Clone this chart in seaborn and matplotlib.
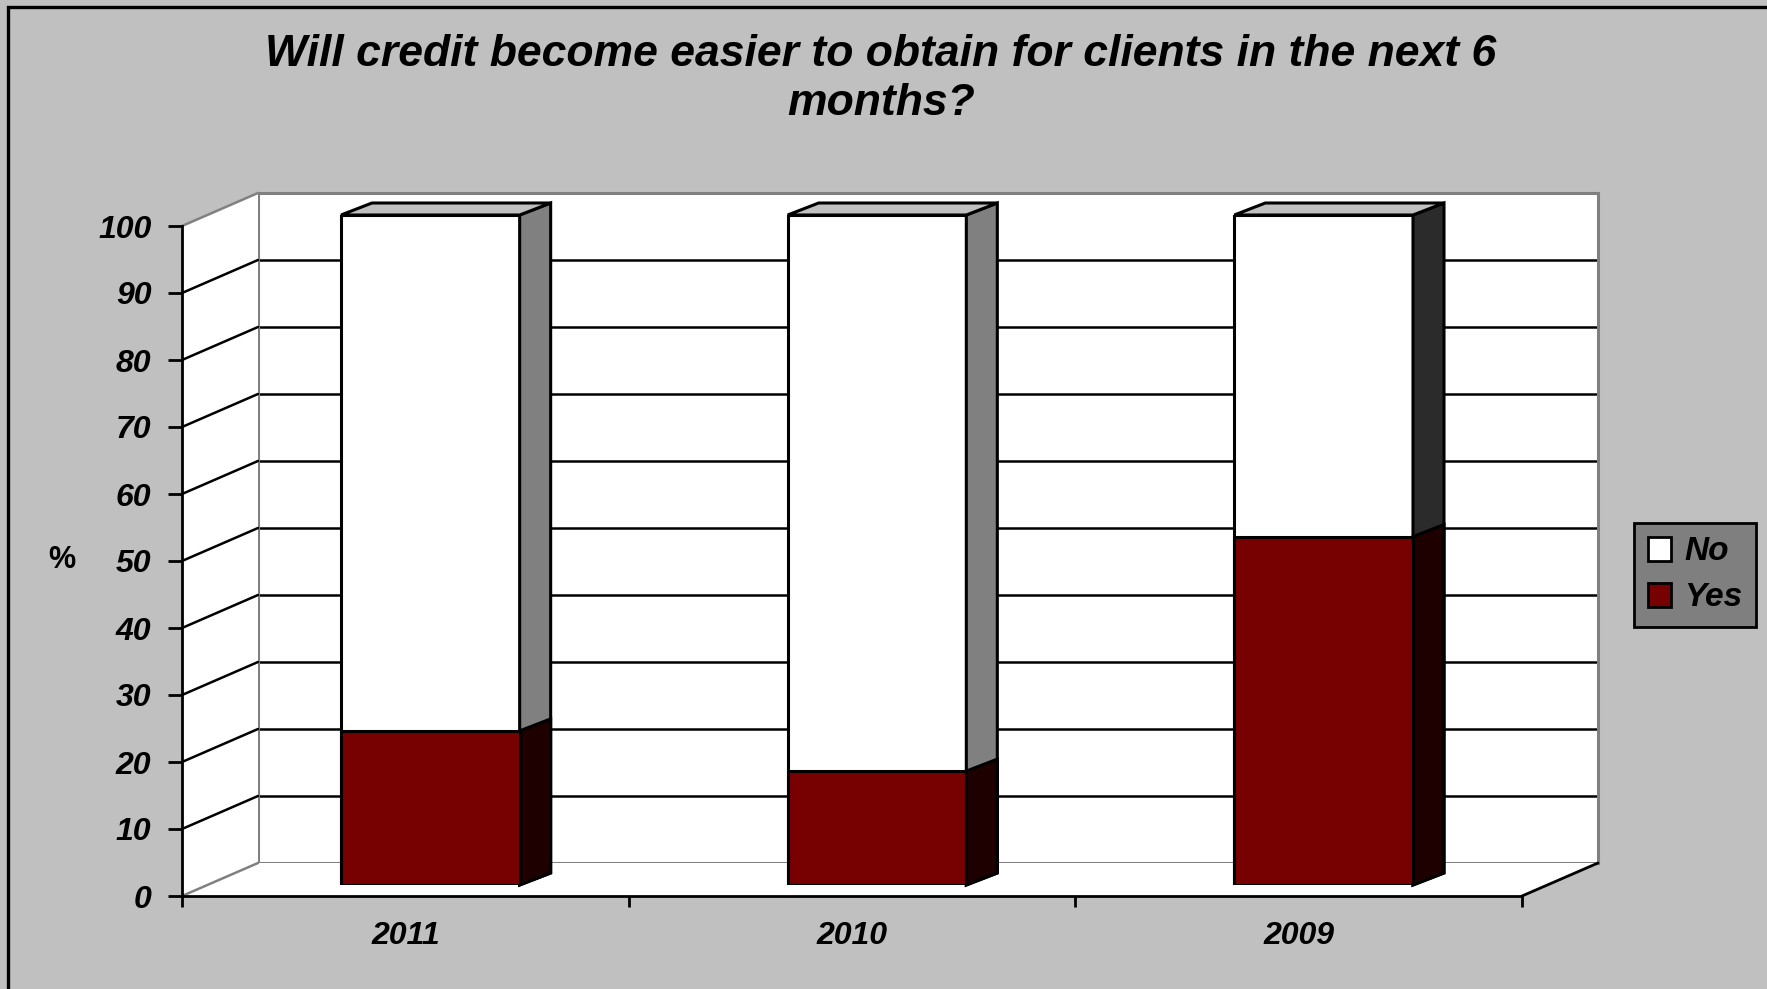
import numpy as np
import pandas as pd
import matplotlib
matplotlib.use("Agg")
import matplotlib.pyplot as plt
import seaborn as sns
from matplotlib.patches import Polygon, Patch, Rectangle
from matplotlib.lines import Line2D
from matplotlib.transforms import IdentityTransform

# ---- data ----
years = ["2011", "2010", "2009"]
yes_vals = [23, 17, 52]
no_vals = [77, 83, 48]
series_names = ["No", "Yes"]
title = "Will credit become easier to obtain for clients in the next 6\nmonths?"
y_ticks = list(range(0, 101, 10))

# ---- style ----
sns.set_style("white")
plt.rcParams["font.family"] = ["Liberation Sans", "DejaVu Sans"]
plt.rcParams["font.weight"] = "bold"
plt.rcParams["font.style"] = "italic"
plt.rcParams["text.color"] = "black"
plt.rcParams["xtick.color"] = "black"
plt.rcParams["ytick.color"] = "black"
plt.rcParams["xtick.labelcolor"] = "black"
plt.rcParams["ytick.labelcolor"] = "black"

BG = "#c0c0c0"
RED = "#770000"
RED_SIDE = "#1e0000"
NO_SIDES = ["#808080", "#808080", "#2b2b2b"]
TOP = "#c0c0c0"
GRAY = "#808080"

W, H = 1767, 989
fig = plt.figure(figsize=(W / 100, H / 100), dpi=100, facecolor=BG)


def fax(l, t, r, b):
    return [l / W, 1 - b / H, (r - l) / W, (b - t) / H]


ID = IdentityTransform()

# back wall
ax_back = fig.add_axes(fax(258, 193, 1598, 863), zorder=0)
# bar plane
ax = fig.add_axes(fax(207, 215, 1547, 885), zorder=2)
# front plane (axis lines, ticks)
ax_front = fig.add_axes(fax(182, 226, 1522, 896), zorder=3)

for a in (ax_back, ax, ax_front):
    a.set_xlim(-0.5, 2.5)
    a.set_ylim(0, 100)

# ---- back wall ----
ax_back.set_facecolor("white")
for s in ax_back.spines.values():
    s.set_color(GRAY)
    s.set_linewidth(2.2)
ax_back.set_xticks([])
ax_back.set_yticks([])
for v in y_ticks[1:-1]:
    ax_back.axhline(v, color="black", lw=1.8, zorder=1)

# ---- left wall and floor (figure-level, display coords) ----
def fp(v):
    return ax_front.transData.transform((-0.5, v))


def bp(v):
    return ax_back.transData.transform((-0.5, v))


fl0, fl1 = fp(0), fp(100)
bl0, bl1 = bp(0), bp(100)
fr0 = ax_front.transData.transform((2.5, 0))
br0 = ax_back.transData.transform((2.5, 0))

wall = Polygon([fl0, fl1, bl1, bl0], closed=True, facecolor="white",
               edgecolor="none", transform=ID, zorder=0.5)
floor = Polygon([fl0, fr0, br0, bl0], closed=True, facecolor="white",
                edgecolor="none", transform=ID, zorder=0.5)
fig.add_artist(wall)
fig.add_artist(floor)
for v in y_ticks[1:-1]:
    a_, b_ = fp(v), bp(v)
    fig.add_artist(Line2D([a_[0], b_[0]], [a_[1], b_[1]], color="black", lw=1.8,
                          transform=ID, zorder=0.6))
for a_, b_ in ((fl1, bl1), (fl0, bl0)):
    fig.add_artist(Line2D([a_[0], b_[0]], [a_[1], b_[1]], color=GRAY, lw=1.8,
                          transform=ID, zorder=0.6))
fig.add_artist(Line2D([fr0[0], br0[0]], [fr0[1], br0[1]], color="black", lw=2,
                      transform=ID, zorder=0.6))

# ---- bars ----
df = pd.DataFrame({"Year": years, "Yes": yes_vals, "No": no_vals})
df["Total"] = df["Yes"] + df["No"]

ax.set_facecolor("none")
sns.barplot(data=df, x="Year", y="Total", color="white", saturation=1,
            edgecolor="black", linewidth=2.2, width=0.4, errorbar=None, ax=ax)
sns.barplot(data=df, x="Year", y="Yes", color=RED, saturation=1,
            edgecolor="black", linewidth=2.2, width=0.4, errorbar=None, ax=ax)
ax.set_xlim(-0.5, 2.5)
ax.set_ylim(0, 100)
ax.set_axis_off()

DX, DY = 31, 12
total_bars = ax.patches[:3]
yes_bars = ax.patches[3:6]


def side_and_top(p, side_color, top=False):
    x0 = p.get_x()
    x1 = x0 + p.get_width()
    yb = p.get_y()
    yt = yb + p.get_height()
    t = ax.transData
    a0 = t.transform((x0, yt))
    a1 = t.transform((x1, yt))
    b1 = t.transform((x1, yb))
    side = Polygon([b1, a1, a1 + [DX, DY], b1 + [DX, DY]], closed=True,
                   facecolor=side_color, edgecolor="black", lw=2.2,
                   transform=ID, zorder=1.5, clip_on=False, joinstyle="miter")
    ax.add_patch(side)
    if top:
        tp = Polygon([a0, a1, a1 + [DX, DY], a0 + [DX, DY]], closed=True,
                     facecolor=TOP, edgecolor="black", lw=2.2,
                     transform=ID, zorder=1.5, clip_on=False, joinstyle="miter")
        ax.add_patch(tp)


for p, c in zip(total_bars, NO_SIDES):
    side_and_top(p, c, top=True)
for p in yes_bars:
    side_and_top(p, RED_SIDE)
for p in yes_bars:
    p.set_zorder(1.6)

# ---- front axes ----
ax_front.set_facecolor("none")
for k in ("top", "right"):
    ax_front.spines[k].set_visible(False)
for k in ("left", "bottom"):
    ax_front.spines[k].set_color("black")
    ax_front.spines[k].set_linewidth(2)
ax_front.set_yticks(y_ticks)
ax_front.set_yticklabels([str(v) for v in y_ticks])
ax_front.set_xticks(range(len(years)))
ax_front.set_xticklabels(years)
ax_front.set_xticks([-0.5, 0.5, 1.5, 2.5], minor=True)
ax_front.tick_params(axis="y", which="major", length=10, width=2, direction="out",
                     pad=12, labelsize=23, colors="black", left=True)
ax_front.tick_params(axis="x", which="major", length=0, pad=18, labelsize=23,
                     labelcolor="black")
ax_front.tick_params(axis="x", which="minor", length=8, width=2, direction="out",
                     bottom=True, colors="black")
for lab in ax_front.get_xticklabels() + ax_front.get_yticklabels():
    lab.set_fontweight("bold")
    lab.set_fontstyle("italic")
    lab.set_color("black")

fig.text(62 / W, 1 - 560 / H, "%", ha="center", va="center", fontsize=22,
         fontweight="bold", fontstyle="normal", color="black")

# ---- title ----
fig.text(881 / W, 1 - 79 / H, title, ha="center", va="center", fontsize=32,
         fontweight="bold", fontstyle="italic", linespacing=1.22, color="black")

# ---- legend ----
handles = [Patch(facecolor="white", edgecolor="black", lw=2),
           Patch(facecolor=RED, edgecolor="black", lw=2)]
leg = fig.legend(handles, series_names, loc="center",
                 bbox_to_anchor=(1695 / W, 1 - 575 / H), frameon=True,
                 fancybox=False, framealpha=1, facecolor="#7f7f7f",
                 edgecolor="black", handlelength=0.7, handleheight=0.7,
                 handletextpad=0.4, borderpad=0.4, labelspacing=0.45,
                 prop={"size": 24, "weight": "bold", "style": "italic"})
leg.get_frame().set_linewidth(2)
for t in leg.get_texts():
    t.set_color("black")

# ---- outer border (left and top only visible) ----
fig.add_artist(Rectangle((8 / W, -0.2), 1.2, 1.2 - 7 / H, transform=fig.transFigure,
                         facecolor="none", edgecolor="black", lw=2.4, clip_on=False))

fig.savefig("out.png", dpi=100, facecolor=BG)
